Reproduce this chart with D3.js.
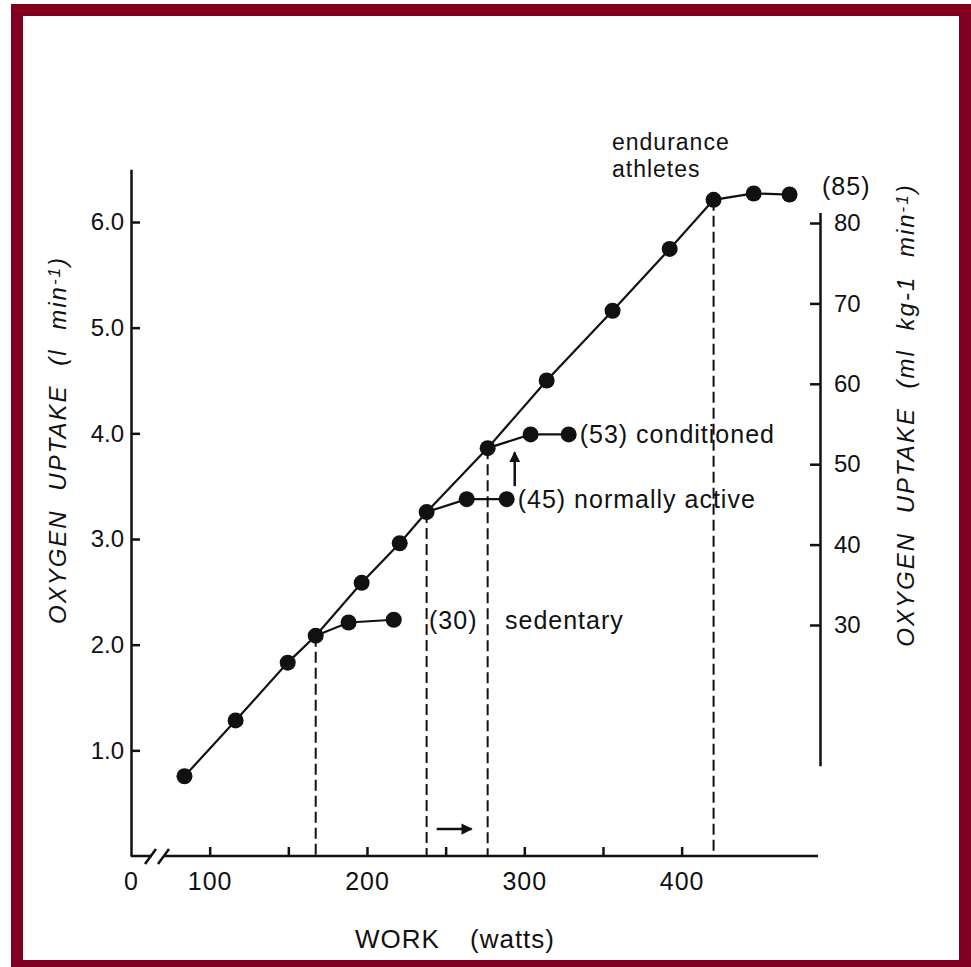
<!DOCTYPE html>
<html>
<head>
<meta charset="utf-8">
<script src="https://cdn.jsdelivr.net/npm/d3@7"></script>
<style>
  body { margin: 0; background: #fff; }
  svg text { font-family: "Liberation Sans", Arial, sans-serif; fill: #111; }
</style>
</head>
<body>
<svg id="chart"></svg>
<script>
// work (watts) and oxygen uptake (l/min)
var mainWork = [84, 116.5, 149.6, 167.4, 196.6, 220.8, 237.9, 276.7, 314.2, 356.1, 392.4, 420.3, 445.8, 468.6];
var mainVO2  = [0.755, 1.283, 1.83, 2.085, 2.585, 2.96, 3.255, 3.86, 4.5, 5.16, 5.745, 6.21, 6.27, 6.26];

// plateau branches (start at a point of the main line)
var sedentaryWork = [167.4, 188.3, 217];
var sedentaryVO2  = [2.085, 2.21, 2.236];
var activeWork = [237.9, 263.4, 288.8];
var activeVO2  = [3.255, 3.377, 3.377];
var condWork = [276.7, 304, 328.2];
var condVO2  = [3.86, 3.99, 3.99];

// where each group reaches its max (dashed drop lines)
var maxWork = [167.4, 237.9, 276.7, 420.3];
var maxVO2  = [2.085, 3.255, 3.86, 6.21];

var xTicks = [100, 150, 200, 250, 300, 350, 400];
var xLabels = [100, 200, 300, 400];
var yLeftTicks = [1, 2, 3, 4, 5, 6];
var yRightTicks = [30, 40, 50, 60, 70, 80];

var W = 971, H = 967;

var svg = d3.select("#chart")
    .attr("width", W)
    .attr("height", H);

// frame
svg.append("rect")
    .attr("x", 17).attr("y", 10)
    .attr("width", 948).attr("height", 956)
    .attr("fill", "#fff")
    .attr("stroke", "#81001f")
    .attr("stroke-width", 12);

var x = d3.scaleLinear().domain([50, 480]).range([131, 807.5]);
var y = d3.scaleLinear().domain([0, 6]).range([856, 222]);
var yR = d3.scaleLinear().domain([30, 80]).range([625, 223]);

var ink = "#111";

// left axis
var gL = svg.append("g")
    .attr("transform", "translate(131,0)")
    .call(d3.axisLeft(y.copy().domain([0, 6.5]).range([y(0), y(6.5)]))
        .tickValues(yLeftTicks)
        .tickSizeInner(-9)
        .tickSizeOuter(0)
        .tickPadding(7)
        .tickFormat(d3.format(".1f")));

// right axis
var yRaxis = yR.copy().domain([12.5, 81.3]).range([yR(12.5), yR(81.3)]);
var gR = svg.append("g")
    .attr("transform", "translate(820,0)")
    .call(d3.axisRight(yRaxis)
        .tickValues(yRightTicks)
        .tickSizeInner(-10)
        .tickSizeOuter(0)
        .tickPadding(14));

// bottom axis (ticks only, line drawn by hand because of the break)
var gB = svg.append("g")
    .attr("transform", "translate(0," + y(0) + ")")
    .call(d3.axisBottom(x)
        .tickValues(xTicks)
        .tickSizeInner(-9)
        .tickSizeOuter(0)
        .tickPadding(16)
        .tickFormat(function(d) { return xLabels.indexOf(d) >= 0 ? d : ""; }));
gB.select(".domain").remove();

[gL, gR, gB].forEach(function(g) {
    g.selectAll("path, line").attr("stroke", ink).attr("stroke-width", 2.5);
    g.selectAll("text")
        .attr("fill", ink)
        .style("font-size", "24px");
});
gB.selectAll("text").style("font-size", "25px").style("letter-spacing", "1px");

var y0 = y(0);
svg.append("path")
    .attr("d", "M131," + y0 + "H152M164," + y0 + "H818")
    .attr("stroke", ink).attr("stroke-width", 2.5).attr("fill", "none");
svg.append("path")
    .attr("d", "M145,864L156,849M158,864L169,849")
    .attr("stroke", ink).attr("stroke-width", 2.5).attr("fill", "none");

svg.append("text")
    .attr("x", 131).attr("y", y0 + 16)
    .attr("dy", "0.71em")
    .attr("text-anchor", "middle")
    .style("font-size", "25px")
    .text("0");

// dashed drop lines
svg.append("g").selectAll("line")
    .data(maxWork)
    .enter().append("line")
    .attr("x1", function(d) { return x(d); })
    .attr("x2", function(d) { return x(d); })
    .attr("y1", function(d, i) { return y(maxVO2[i]); })
    .attr("y2", y0)
    .attr("stroke", ink)
    .attr("stroke-width", 2)
    .attr("stroke-dasharray", "11,5");

var line = d3.line()
    .x(function(d) { return x(d[0]); })
    .y(function(d) { return y(d[1]); });

function pairs(a, b) { return a.map(function(v, i) { return [v, b[i]]; }); }

var series = [
    pairs(mainWork, mainVO2),
    pairs(sedentaryWork, sedentaryVO2),
    pairs(activeWork, activeVO2),
    pairs(condWork, condVO2)
];

svg.append("g").selectAll("path")
    .data(series)
    .enter().append("path")
    .attr("d", line)
    .attr("fill", "none")
    .attr("stroke", ink)
    .attr("stroke-width", 2.2);

var allPts = [];
series.forEach(function(s, k) {
    s.forEach(function(p, i) { if (k == 0 || i > 0) allPts.push(p); });
});

svg.append("g").selectAll("circle")
    .data(allPts)
    .enter().append("circle")
    .attr("cx", function(d) { return x(d[0]); })
    .attr("cy", function(d) { return y(d[1]); })
    .attr("r", 8)
    .attr("fill", ink);

// arrows
var defs = svg.append("defs");
defs.append("marker")
    .attr("id", "head")
    .attr("viewBox", "0 0 10 10")
    .attr("refX", 9).attr("refY", 5)
    .attr("markerWidth", 4.5).attr("markerHeight", 4.5)
    .attr("orient", "auto")
    .append("path")
    .attr("d", "M0,0L10,5L0,10Z")
    .attr("fill", ink);

var arrows = [
    [[244.3, 0.255], [266.5, 0.255]],
    [[293.9, 3.5], [293.9, 3.82]]
];
svg.append("g").selectAll("path")
    .data(arrows)
    .enter().append("path")
    .attr("d", line)
    .attr("stroke", ink)
    .attr("stroke-width", 2.5)
    .attr("marker-end", "url(#head)");

// annotations
function note(t, px, py, size) {
    return svg.append("text")
        .attr("x", px).attr("y", py)
        .style("font-size", (size || 25) + "px")
        .style("letter-spacing", "1px")
        .text(t);
}
note("(53) conditioned", x(328.2) + 11, y(3.99) + 9);
note("(45) normally active", x(288.8) + 11, y(3.377) + 9);
note("(30)", 429, y(2.236) + 9);
note("sedentary", 505, y(2.236) + 9);
note("endurance", 612, 150, 23);
note("athletes", 612, 177, 23);
note("(85)", 822, 195);

// axis titles
svg.append("text")
    .attr("x", 355).attr("y", 948)
    .style("font-size", "26px")
    .style("letter-spacing", "1px")
    .text("WORK");
svg.append("text")
    .attr("x", 555).attr("y", 948)
    .attr("text-anchor", "end")
    .style("font-size", "26px")
    .style("letter-spacing", "1px")
    .text("(watts)");

function sideTitle(cx, cy, parts) {
    var t = svg.append("text")
        .attr("transform", "translate(" + cx + "," + cy + ") rotate(-90)")
        .attr("text-anchor", "middle")
        .style("font-size", "24px")
        .style("font-style", "italic")
        .style("letter-spacing", "2px")
        .style("word-spacing", "10px");
    parts.forEach(function(p) {
        var s = t.append("tspan").text(p[0]);
        if (p[1]) s.attr("baseline-shift", "35%").style("font-size", "17px");
    });
}
sideTitle(66, 440, [["OXYGEN UPTAKE (l min"], ["-1", true], [")"]]);
sideTitle(914, 415, [["OXYGEN UPTAKE (ml kg-1 min"], ["-1", true], [")"]]);
</script>
</body>
</html>
